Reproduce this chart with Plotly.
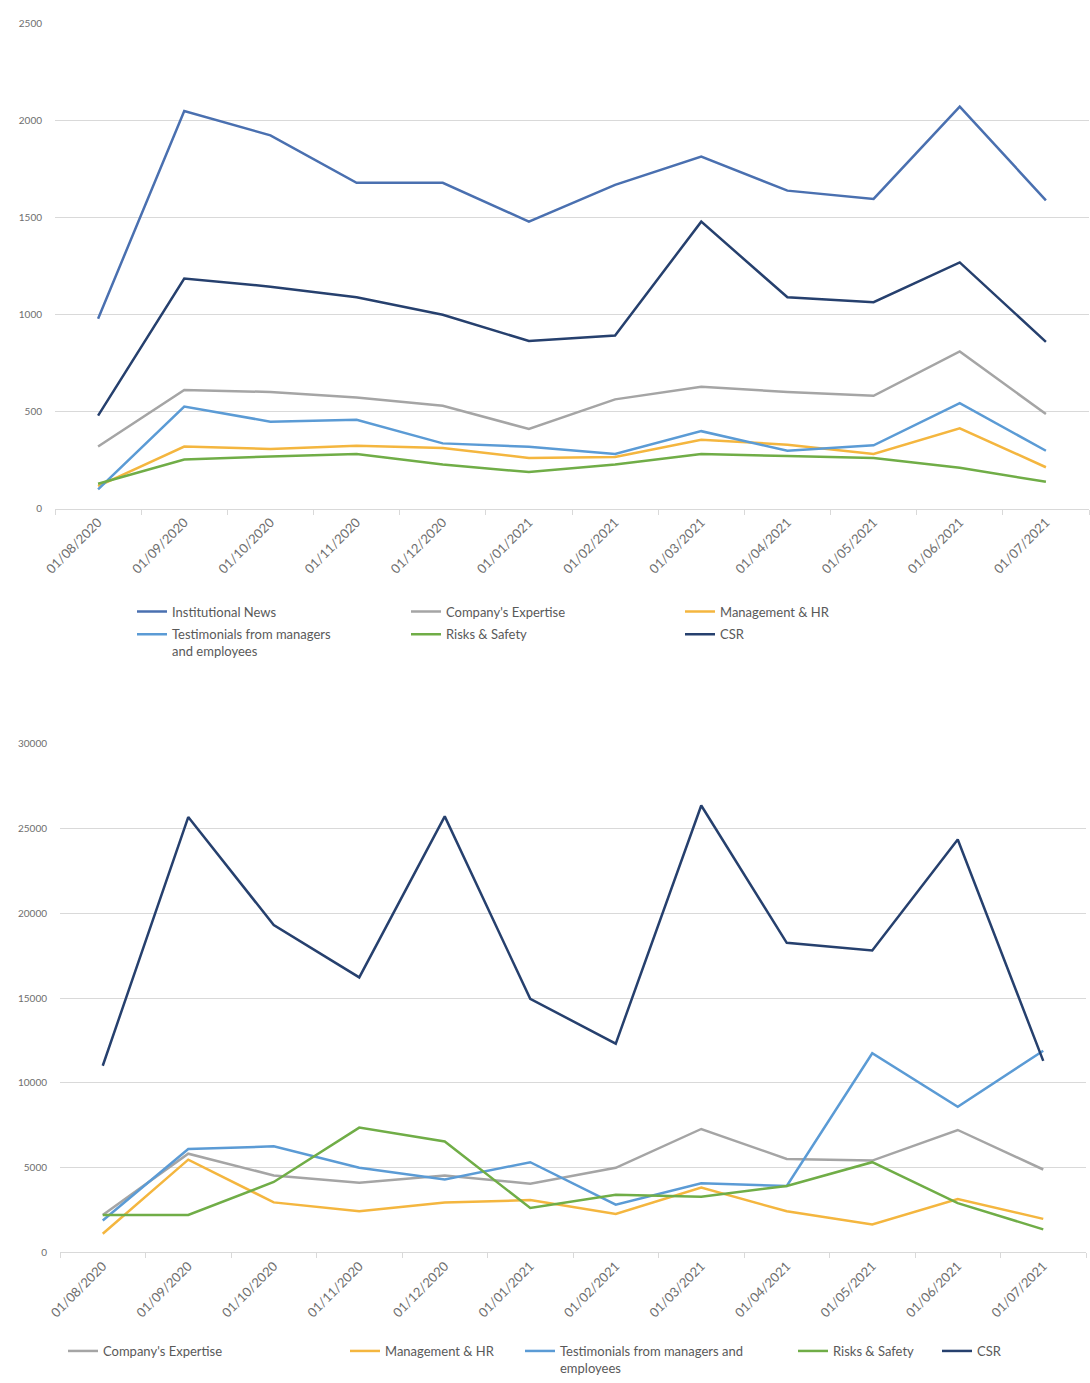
import plotly.graph_objects as go

months = ["01/08/2020", "01/09/2020", "01/10/2020", "01/11/2020", "01/12/2020", "01/01/2021",
          "01/02/2021", "01/03/2021", "01/04/2021", "01/05/2021", "01/06/2021", "01/07/2021"]

# Top chart
institutional_news = [980, 2050, 1925, 1680, 1680, 1480, 1670, 1815, 1640, 1597, 2073, 1590]
company_expertise_top = [321, 612, 602, 573, 531, 411, 564, 629, 602, 582, 811, 488]
management_hr_top = [117, 321, 308, 325, 313, 262, 267, 356, 330, 282, 415, 214]
testimonials_top = [100, 527, 449, 459, 337, 320, 282, 400, 299, 327, 544, 299]
risks_safety_top = [129, 254, 270, 282, 228, 189, 228, 282, 272, 262, 211, 139]
csr_top = [480, 1187, 1145, 1090, 1000, 865, 893, 1480, 1090, 1065, 1270, 860]

# Bottom chart
company_expertise_bot = [2214, 5828, 4545, 4120, 4545, 4062, 4994, 7285, 5519, 5420, 7226, 4895]
management_hr_bot = [1107, 5478, 2955, 2430, 2955, 3090, 2275, 3829, 2430, 1655, 3147, 1984]
testimonials_bot = [1888, 6101, 6259, 4994, 4312, 5326, 2820, 4080, 3928, 11754, 8590, 11900]
risks_safety_bot = [2214, 2214, 4160, 7366, 6550, 2622, 3403, 3287, 3928, 5326, 2914, 1364]
csr_bot = [11014, 25682, 19312, 16224, 25722, 14960, 12319, 26364, 18263, 17815, 24359, 11300]

C_INST = "#4A70B0"
C_COMP = "#A5A5A5"
C_MGMT = "#F4B63F"
C_TEST = "#5B9BD5"
C_RISK = "#70AD47"
C_CSR = "#26406E"

W, H = 1090, 1383
ML, MR = 55, 1
PW = W - ML - MR
FONT = "Lato"
TXT = "#595959"
TICK = "#6E6E6E"
GRID = "#D9D9D9"

fig = go.Figure()

def add(y, name, color, xa, ya, legend, lw=None):
    kw = {}
    if lw is not None:
        kw["legendwidth"] = lw
    fig.add_trace(go.Scatter(x=months, y=y, name=name, mode="lines",
                             line=dict(color=color, width=2.5),
                             xaxis=xa, yaxis=ya, legend=legend, **kw))

# top chart traces (legend rows)
add(institutional_news, "Institutional News", C_INST, "x", "y", "legend")
add(company_expertise_top, "Company's Expertise", C_COMP, "x", "y", "legend")
add(management_hr_top, "Management & HR", C_MGMT, "x", "y", "legend")
add(testimonials_top, "Testimonials from managers<br>and employees", C_TEST, "x", "y", "legend2")
add(risks_safety_top, "Risks & Safety", C_RISK, "x", "y", "legend2")
add(csr_top, "CSR", C_CSR, "x", "y", "legend2")

# bottom chart traces
add(company_expertise_bot, "Company's Expertise", C_COMP, "x2", "y2", "legend3", 237)
add(management_hr_bot, "Management & HR", C_MGMT, "x2", "y2", "legend3", 130)
add(testimonials_bot, "Testimonials from managers and<br>employees", C_TEST, "x2", "y2", "legend3", 228)
add(risks_safety_bot, "Risks & Safety", C_RISK, "x2", "y2", "legend3", 99)
add(csr_bot, "CSR", C_CSR, "x2", "y2", "legend3")

def px_x(px):
    return (px - ML) / PW

def px_y(py):
    return 1 - py / H

xcommon = dict(type="category", range=[-0.5, 11.5], tickson="boundaries", ticks="outside",
               ticklen=5, tickcolor=GRID, showline=True, linecolor=GRID, linewidth=1,
               showgrid=False, tickangle=-45, tickfont=dict(family=FONT, size=13, color=TICK),
               zeroline=False, fixedrange=True)
ycommon = dict(showgrid=True, gridcolor=GRID, gridwidth=1, zeroline=False, showline=False,
               ticks="", tickfont=dict(family=FONT, size=10, color=TICK), ticklabelstandoff=12,
               tickformat="d", fixedrange=True)

legcommon = dict(orientation="h", xanchor="left", yanchor="top", bgcolor="rgba(0,0,0,0)",
                 font=dict(family=FONT, size=13, color=TXT), valign="top", borderwidth=0)

fig.update_layout(
    width=W, height=H,
    margin=dict(l=ML, r=MR, t=0, b=0),
    paper_bgcolor="white", plot_bgcolor="white",
    font=dict(family=FONT, color=TXT),
    xaxis=dict(domain=[0, 1], anchor="y", **xcommon),
    yaxis=dict(domain=[px_y(508), px_y(17)], range=[0, 2500], dtick=500, anchor="x", **ycommon),
    xaxis2=dict(domain=[px_x(60), px_x(1086)], anchor="y2", **xcommon),
    yaxis2=dict(domain=[px_y(1261), px_y(746)], range=[0, 30000], dtick=5000, anchor="x2", **ycommon),
    legend=dict(x=px_x(132), y=px_y(597), entrywidth=229, **legcommon),
    legend2=dict(x=px_x(132), y=px_y(620), entrywidth=229, **legcommon),
    legend3=dict(x=px_x(63), y=px_y(1346), **legcommon),
)

fig.write_html("out.html")
